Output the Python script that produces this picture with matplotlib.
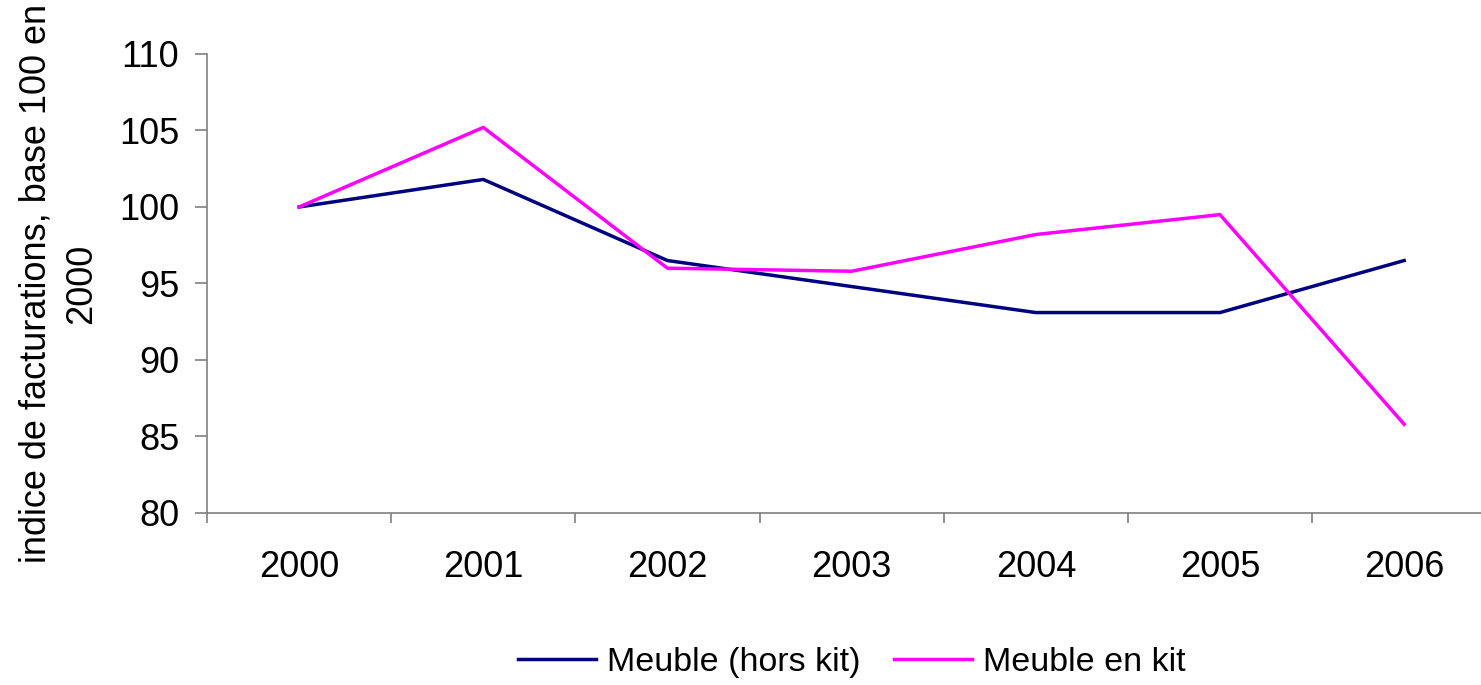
import numpy as np
import matplotlib.pyplot as plt
from matplotlib.ticker import FixedLocator

plt.rcParams['font.family'] = ['Liberation Sans', 'DejaVu Sans']

# Data
years = ['2000', '2001', '2002', '2003', '2004', '2005', '2006']
hors_kit = [100.0, 101.8, 96.5, 94.8, 93.1, 93.1, 96.5]
en_kit = [100.0, 105.2, 96.0, 95.8, 98.2, 99.5, 85.8]

fig = plt.figure(figsize=(14.81, 6.85), dpi=100)
ax = fig.add_axes([0.1398, 0.2511, 0.8705, 0.6701])

x = np.arange(len(years))
ax.plot(x, hors_kit, color='#000080', lw=2.5, label='Meuble (hors kit)')
ax.plot(x, en_kit, color='#FF00FF', lw=2.5, label='Meuble en kit')

ax.set_xlim(-0.5, len(years) - 0.5)
ax.set_ylim(80, 110)
ax.set_yticks(np.arange(80, 111, 5))

# ticks between categories, labels centred on categories
ax.xaxis.set_major_locator(FixedLocator(np.arange(-0.5, len(years), 1.0)))
ax.xaxis.set_major_formatter(plt.NullFormatter())
ax.xaxis.set_minor_locator(FixedLocator(x))
ax.set_xticklabels(years, minor=True)
ax.tick_params(axis='x', which='minor', length=0, pad=27, labelsize=26)
ax.tick_params(axis='x', which='major', length=7, width=1.2, color='#808080')
ax.tick_params(axis='y', length=9, width=1.2, color='#808080', pad=11, labelsize=26)

for side in ['top', 'right']:
    ax.spines[side].set_visible(False)
for side in ['left', 'bottom']:
    ax.spines[side].set_color('#808080')
    ax.spines[side].set_linewidth(1.2)

ax.set_ylabel('indice de facturations, base 100 en\n2000', fontsize=26, labelpad=14,
              linespacing=1.4)

ax.legend(loc='center', bbox_to_anchor=(0.5, -0.325), ncol=2, frameon=False,
          fontsize=24.5, handlelength=2.3, handletextpad=0.3, columnspacing=1.0)

fig.savefig('out.png', dpi=100)
